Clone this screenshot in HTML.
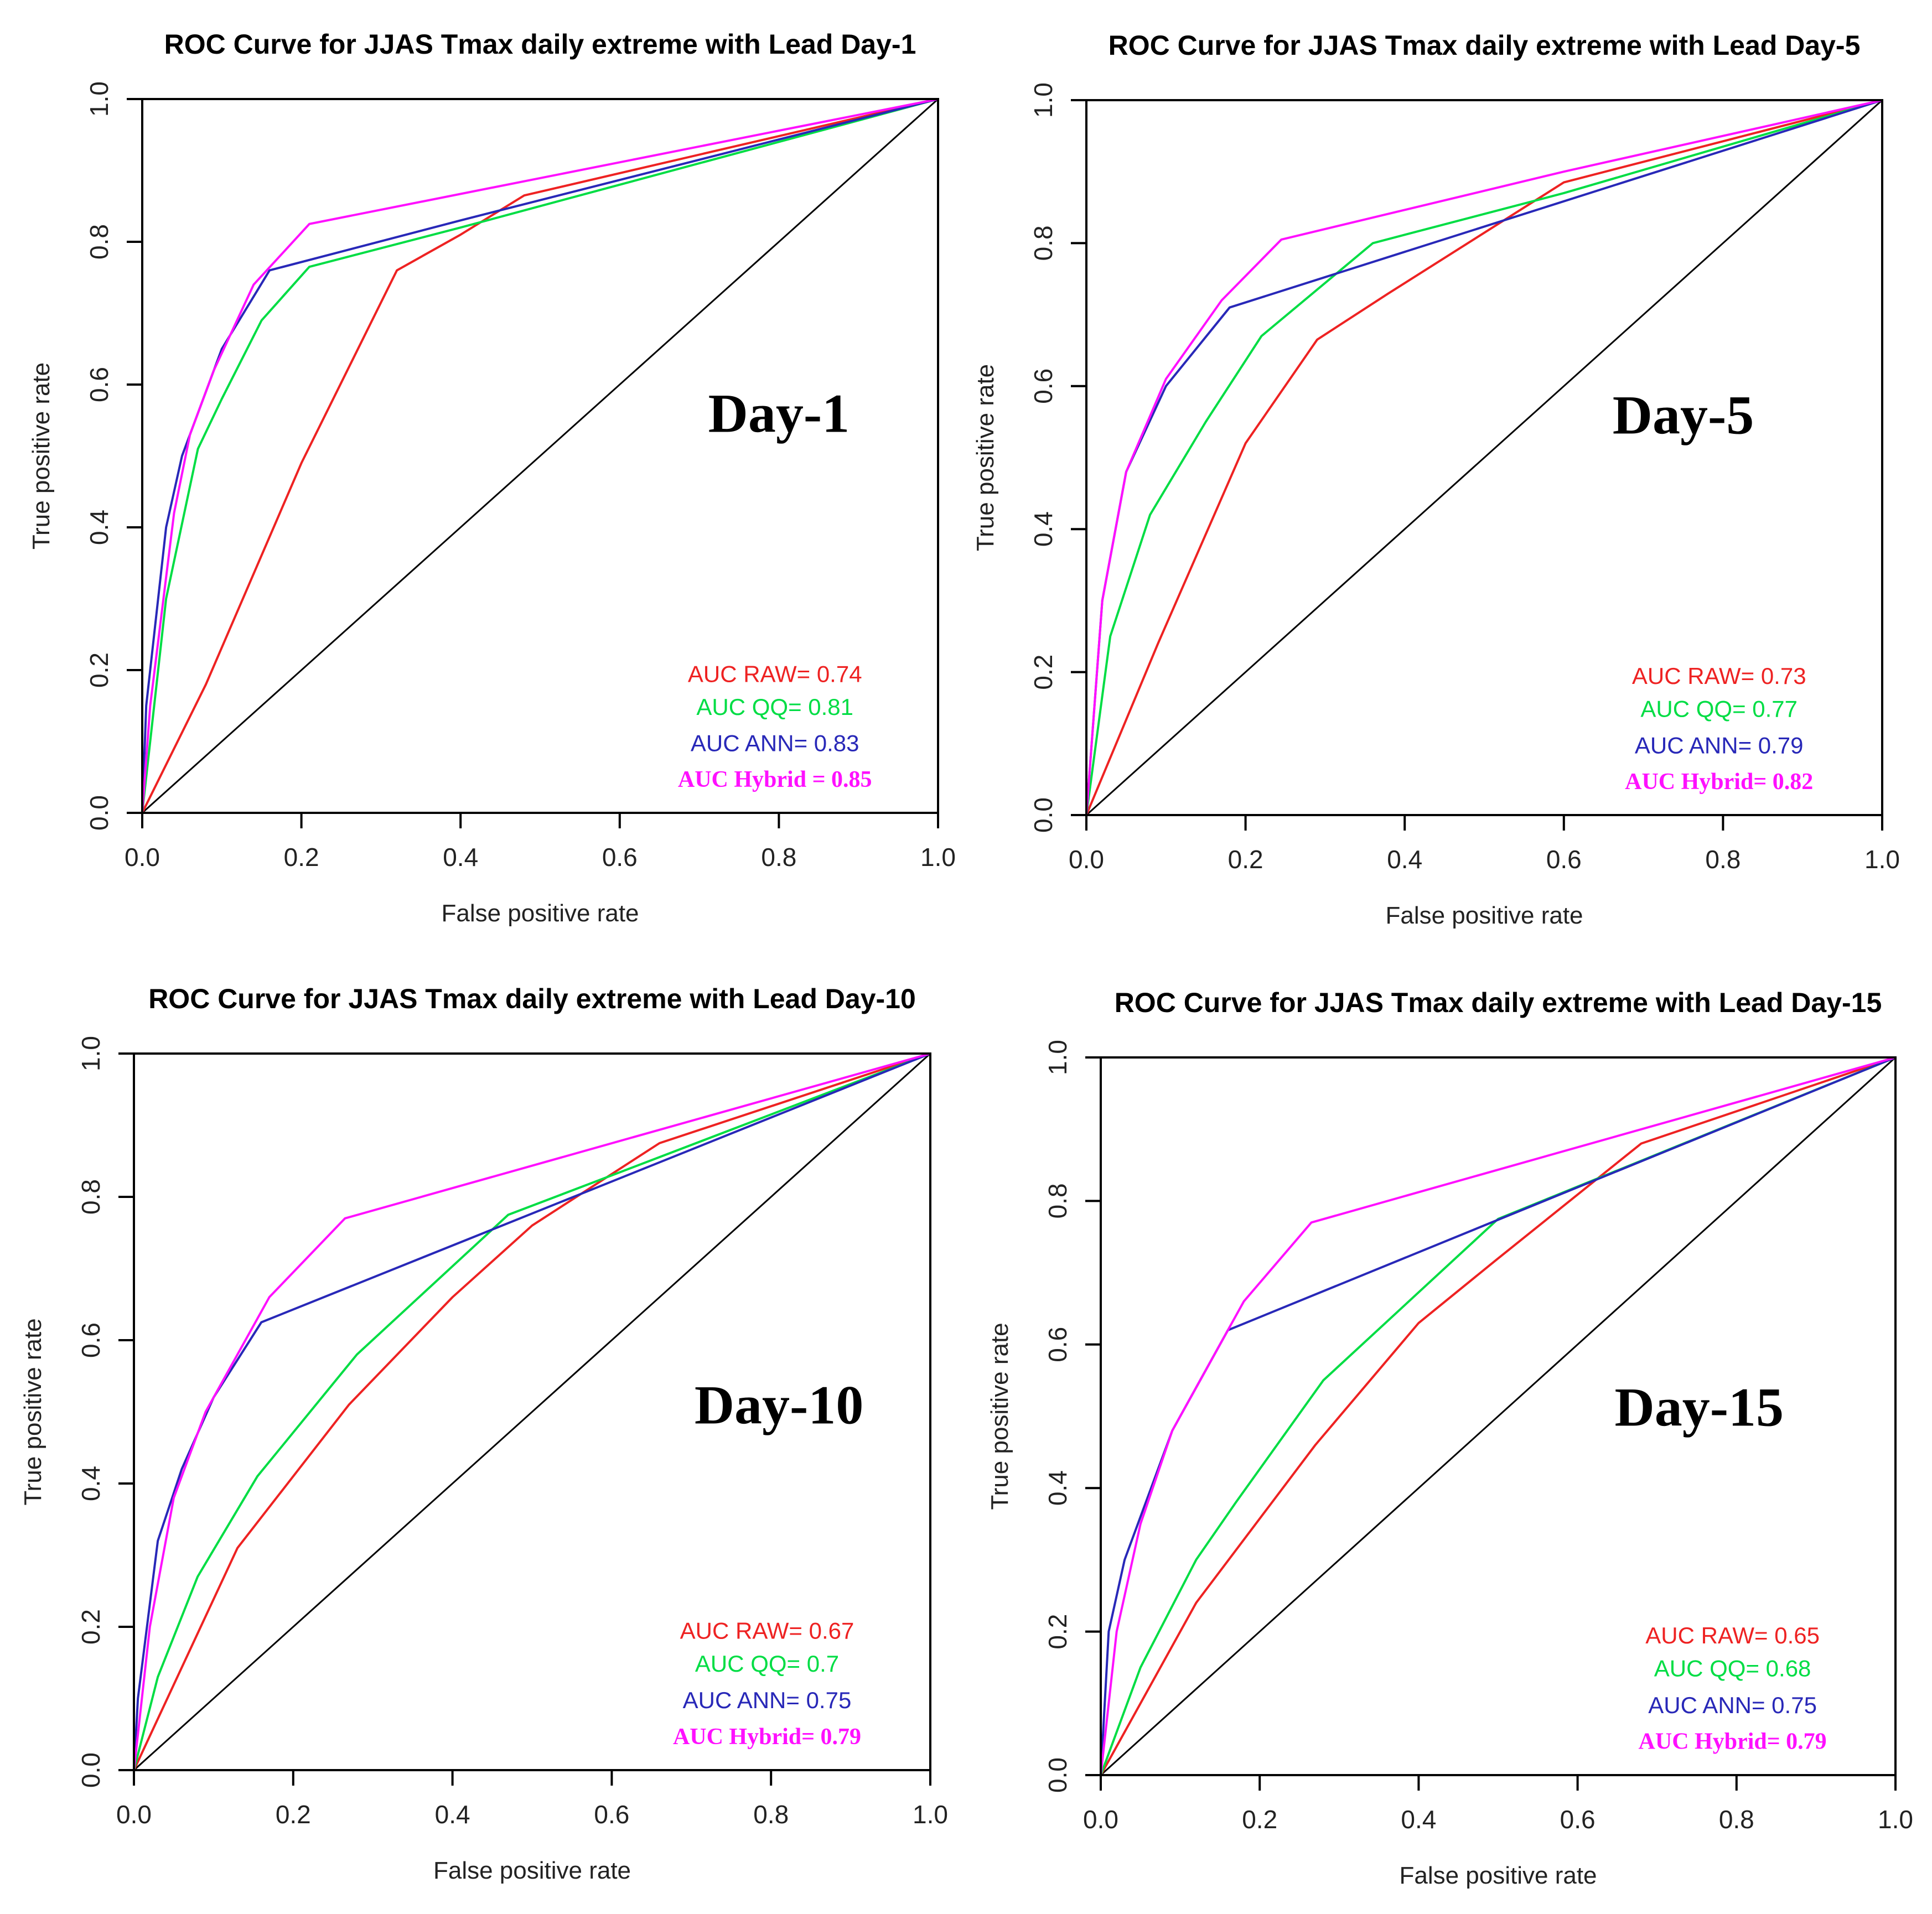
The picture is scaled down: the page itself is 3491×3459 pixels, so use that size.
<!DOCTYPE html>
<html><head><meta charset="utf-8"><style>
html,body{margin:0;padding:0;background:#fff;}
svg{display:block;}
</style></head><body>
<svg id="fig" width="3491" height="3459" viewBox="0 0 3491 3459" xmlns="http://www.w3.org/2000/svg"></svg>
<script>
const panelTitles = ["ROC Curve for JJAS Tmax daily extreme with Lead Day-1","ROC Curve for JJAS Tmax daily extreme with Lead Day-5","ROC Curve for JJAS Tmax daily extreme with Lead Day-10","ROC Curve for JJAS Tmax daily extreme with Lead Day-15"];
const dayLabels = ["Day-1","Day-5","Day-10","Day-15"];
const aucRaw = ["0.74","0.73","0.67","0.65"];
const aucQQ = ["0.81","0.77","0.7","0.68"];
const aucANN = ["0.83","0.79","0.75","0.75"];
const aucHybrid = ["0.85","0.82","0.79","0.79"];
const tickValues = [0,0.2,0.4,0.6,0.8,1.0];
const tickLabels = ["0.0","0.2","0.4","0.6","0.8","1.0"];
// series: arrays of [fpr, tpr]
const rawSeries = [
 [[0,0],[0.08,0.18],[0.2,0.49],[0.32,0.76],[0.4,0.81],[0.48,0.865],[1,1]],
 [[0,0],[0.09,0.24],[0.2,0.52],[0.29,0.665],[0.38,0.73],[0.6,0.885],[1,1]],
 [[0,0],[0.13,0.31],[0.27,0.51],[0.4,0.66],[0.5,0.76],[0.66,0.875],[1,1]],
 [[0,0],[0.12,0.24],[0.27,0.46],[0.4,0.63],[0.5,0.72],[0.68,0.88],[1,1]]
];
const qqSeries = [
 [[0,0],[0.01,0.1],[0.03,0.3],[0.07,0.51],[0.1,0.58],[0.15,0.69],[0.21,0.765],[0.4,0.82],[0.6,0.88],[1,1]],
 [[0,0],[0.03,0.25],[0.08,0.42],[0.15,0.55],[0.22,0.67],[0.36,0.8],[0.6,0.87],[1,1]],
 [[0,0],[0.03,0.13],[0.08,0.27],[0.155,0.41],[0.28,0.58],[0.47,0.775],[0.6,0.83],[1,1]],
 [[0,0],[0.05,0.15],[0.12,0.3],[0.17,0.38],[0.28,0.55],[0.5,0.775],[1,1]]
];
const annSeries = [
 [[0,0],[0.005,0.15],[0.03,0.4],[0.05,0.5],[0.1,0.65],[0.16,0.76],[0.4,0.83],[1,1]],
 [[0,0],[0.02,0.3],[0.05,0.48],[0.1,0.6],[0.18,0.71],[1,1]],
 [[0,0],[0.005,0.1],[0.03,0.32],[0.06,0.42],[0.1,0.52],[0.16,0.625],[1,1]],
 [[0,0],[0.01,0.2],[0.03,0.3],[0.09,0.48],[0.16,0.62],[1,1]]
];
const hybridSeries = [
 [[0,0],[0.01,0.15],[0.04,0.42],[0.06,0.53],[0.09,0.62],[0.14,0.74],[0.21,0.825],[1,1]],
 [[0,0],[0.02,0.3],[0.05,0.48],[0.1,0.61],[0.17,0.72],[0.245,0.805],[0.6,0.9],[1,1]],
 [[0,0],[0.02,0.2],[0.05,0.38],[0.09,0.5],[0.17,0.66],[0.265,0.77],[1,1]],
 [[0,0],[0.02,0.2],[0.05,0.35],[0.09,0.48],[0.14,0.58],[0.18,0.66],[0.265,0.77],[1,1]]
];

const boxes = [[257,179,1695,1469],[1963,181,3401,1473],[242,1904,1681,3199],[1989,1911,3425,3208]];
const dayPos = [[0.80,0.44],[0.75,0.44],[0.81,0.49],[0.753,0.487]];
const NS = "http://www.w3.org/2000/svg";
const svg = document.getElementById('fig');
function mk(tag, attrs, parent){const e=document.createElementNS(NS,tag);for(const k in attrs)e.setAttribute(k,attrs[k]);(parent||svg).appendChild(e);return e;}
const sans = '"Liberation Sans", Arial, sans-serif';
const serif = '"Liberation Serif", "Times New Roman", serif';

boxes.forEach((b,i)=>{
  const [L,T,R,B]=b;
  const g = mk('g',{});
  
  
  const sx = v => L + v*(R-L);
  const sy = v => B - v*(B-T);
  const t = mk('text',{x:(L+R)/2,y:T-82,'text-anchor':'middle','font-family':sans,'font-weight':'bold','font-size':50,fill:'#000'},g);
  t.textContent = panelTitles[i];
  
  
  const d = mk('line',{x1:sx(0),y1:sy(0),x2:sx(1),y2:sy(1),stroke:'#000','stroke-width':3},g);
  
  
  const series = [[rawSeries[i],'#ee2222','raw'],[qqSeries[i],'#00dd44','qq'],[annSeries[i],'#2828b8','ann'],[hybridSeries[i],'#ff10ff','hybrid']];
  series.forEach(([pts,col,nm])=>{
    const p = mk('polyline',{points:pts.map(q=>sx(q[0])+','+sy(q[1])).join(' '),fill:'none',stroke:col,'stroke-width':4,'stroke-linejoin':'round'},g);
    
    
  });
  const fr = mk('rect',{x:L,y:T,width:R-L,height:B-T,fill:'none',stroke:'#000','stroke-width':4},g);
  
  
  tickValues.forEach((v,k)=>{
    const tk = mk('line',{x1:sx(v),y1:B,x2:sx(v),y2:B+28,stroke:'#000','stroke-width':4},g);
    
    
    const tl = mk('text',{x:sx(v),y:B+96,'text-anchor':'middle','font-family':sans,'font-size':46,fill:'#222'},g);
    tl.textContent = tickLabels[k];
    
    
    const ty = mk('line',{x1:L-28,y1:sy(v),x2:L,y2:sy(v),stroke:'#000','stroke-width':4},g);
    
    
    const yl = mk('text',{x:0,y:0,'text-anchor':'middle','font-family':sans,'font-size':46,fill:'#222',transform:`translate(${L-62},${sy(v)}) rotate(-90)`},g);
    yl.textContent = tickLabels[k];
    
    
  });
  const xl = mk('text',{x:(L+R)/2,y:B+196,'text-anchor':'middle','font-family':sans,'font-size':44,fill:'#222'},g);
  xl.textContent='False positive rate';
  
  
  const yt = mk('text',{x:0,y:0,'text-anchor':'middle','font-family':sans,'font-size':44,fill:'#222',transform:`translate(${L-168},${(T+B)/2}) rotate(-90)`},g);
  yt.textContent='True positive rate';
  
  
  const dl = mk('text',{x:L+dayPos[i][0]*(R-L),y:T+dayPos[i][1]*(B-T)+34,'text-anchor':'middle','font-family':serif,'font-weight':'bold','font-size':100,fill:'#000'},g);
  dl.textContent = dayLabels[i];
  
  
  const cx = L+0.795*(R-L);
  const lines = [['AUC RAW= '+aucRaw[i],'#ee2222',0.805,sans,'normal','auc-raw'],['AUC QQ= '+aucQQ[i],'#00dd44',0.851,sans,'normal','auc-qq'],['AUC ANN= '+aucANN[i],'#2828b8',0.902,sans,'normal','auc-ann'],[(i===0?'AUC Hybrid = ':'AUC Hybrid= ')+aucHybrid[i],'#ff10ff',0.952,serif,'bold','auc-hybrid']];
  lines.forEach(([txt,col,ry,ff,fw,nm])=>{
    const a = mk('text',{x:cx,y:T+ry*(B-T)+15,'text-anchor':'middle','font-family':ff,'font-weight':fw,'font-size':42,fill:col},g);
    a.textContent = txt;
    
    
  });
});
</script>
</body></html>
